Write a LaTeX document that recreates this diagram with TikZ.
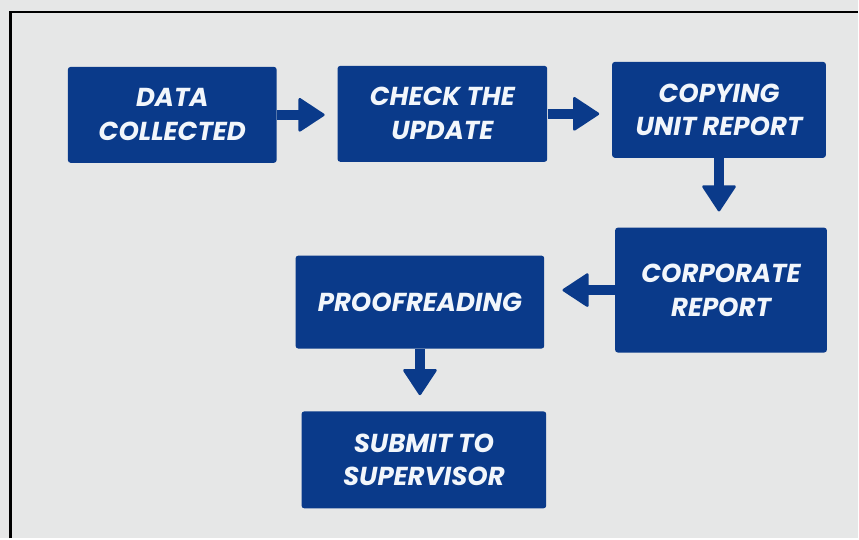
\documentclass[tikz,border=0pt]{standalone}
\usepackage{fontspec}
\setsansfont{Poppins}
\usetikzlibrary{arrows.meta}
\definecolor{boxblue}{HTML}{0A3A8A}
\definecolor{paper}{HTML}{E6E7E7}
\definecolor{textwhite}{HTML}{F2F6FB}
\begin{document}
\begin{tikzpicture}[x=0.75pt, y=-0.75pt,
  stage/.style={fill=boxblue, rounded corners=2pt, text=textwhite, align=center,
    font=\sffamily\bfseries\itshape\fontsize{19.5}{25.5}\selectfont, inner sep=0pt},
  flow/.style={boxblue, line width=7.5pt,
    -{Triangle[length=20.5pt,width=26.5pt,round,line width=2pt 0]},
    shorten >=9.5pt}]
  % paper and the frame line on top and left
  \fill[paper] (0,0) rectangle (859,539);
  \draw[line width=1.8pt] (10.5,539) -- (10.5,12) -- (859,12);
  % stages: name/x/y/width/height/text
  \foreach \n/\x/\y/\w/\h/\t in {
    data/172.5/115/156.75/72/{DATA\\COLLECTED},
    check/443/114/157.5/72/{CHECK THE\\UPDATE},
    copy/720/110/160.5/72/{COPYING\\UNIT REPORT},
    corp/722/290.5/159/93.75/{CORPORATE\\REPORT},
    proof/420.5/302.5/186.75/69.75/{PROOFREADING},
    submit/424.5/460.5/183.75/72.75/{SUBMIT TO\\SUPERVISOR}} {
    \node[stage, minimum width=\w pt, minimum height=\h pt] (\n) at (\x,\y) {\t};
  }
  % connectors
  \draw[flow] (data.east) -- (data.east -| check.west);
  \draw[flow] (check.east) -- (check.east -| copy.west);
  \draw[flow, shorten >=12pt] (copy.south) -- (copy.south |- corp.north);
  \draw[flow, shorten >=13.5pt] (corp.west) -- (corp.west -| proof.east);
  \draw[flow, shorten >=12pt] (proof.south) -- (proof.south |- submit.north);
\end{tikzpicture}
\end{document}
